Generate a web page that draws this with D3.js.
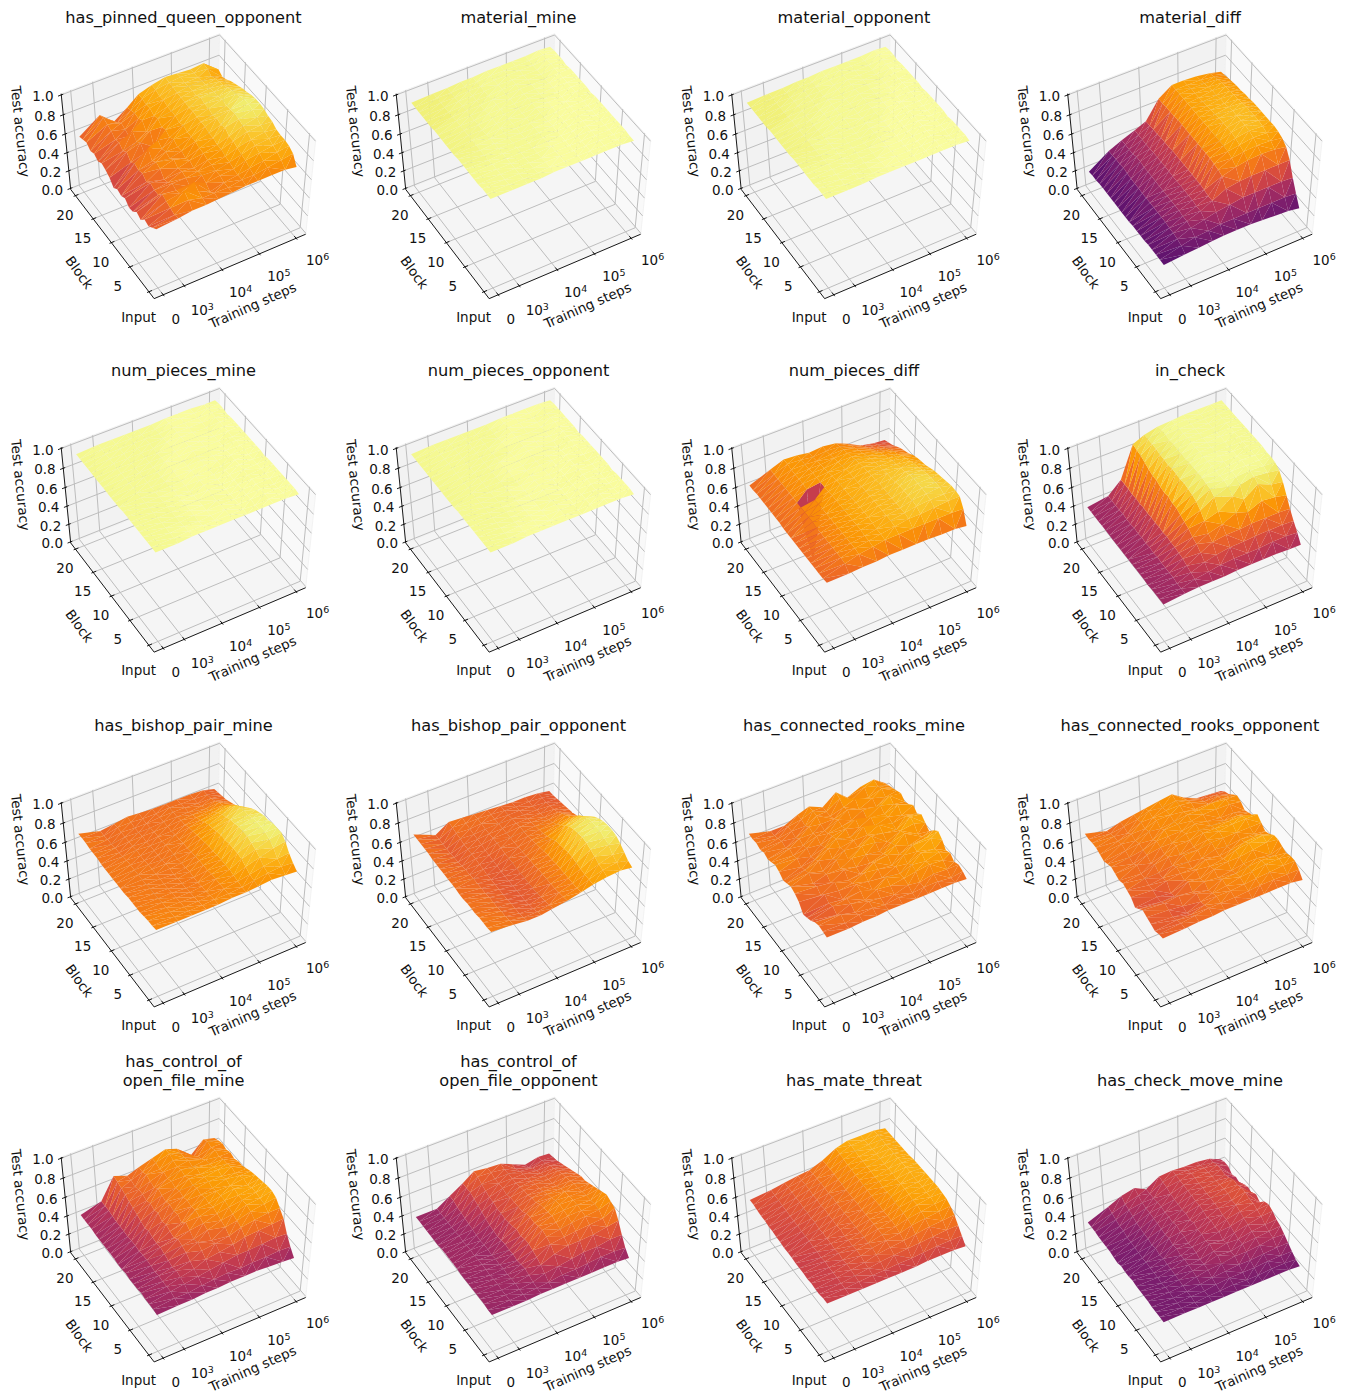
<!DOCTYPE html>
<html><head><meta charset="utf-8"><script src="https://cdn.jsdelivr.net/npm/d3@7"></script>
<style>html,body{margin:0;background:#fff}svg{display:block}text{font-family:"DejaVu Sans";fill:#111}</style></head><body><svg id="c" width="1351" height="1395"></svg>
<script>
const titles=[["has_pinned_queen_opponent"],["material_mine"],["material_opponent"],["material_diff"],["num_pieces_mine"],["num_pieces_opponent"],["num_pieces_diff"],["in_check"],["has_bishop_pair_mine"],["has_bishop_pair_opponent"],["has_connected_rooks_mine"],["has_connected_rooks_opponent"],["has_control_of","open_file_mine"],["has_control_of","open_file_opponent"],["has_mate_threat"],["has_check_move_mine"]];
const stepsLog=[2.45,3,3.35,3.7,4,4.35,4.7,5,5.35,5.7,6];
const blocks=d3.range(0,21);
const has_pinned_queen_opponent=[[66,68,70,70,71,72,73,73,73,73,71],[62,66,76,72,72,72,74,74,76,78,80],[58,68,80,74,68,72,74,76,78,81,83],[60,70,72,78,72,74,75,79,81,83,84],[54,72,70,68,75,74,77,80,84,85,84],[57,66,72,72,74,75,78,82,85,87,85],[52,66,68,74,72,75,80,84,88,89,88],[51,68,66,72,75,77,80,84,89,92,89],[56,64,72,76,72,77,82,88,91,95,91],[53,68,74,72,75,79,82,86,92,96,92],[55,66,70,74,74,79,84,88,91,96,92],[51,68,78,72,77,79,84,86,90,94,91],[57,64,68,76,74,81,84,88,92,92,89],[60,70,74,64,77,79,85,88,90,91,88],[62,66,70,76,75,81,84,90,90,89,86],[59,70,76,70,79,81,85,87,89,87,84],[62,68,66,77,77,81,85,87,88,86,82],[60,72,68,74,80,83,85,87,87,84,79],[64,74,70,75,79,82,86,86,86,82,77],[62,76,66,73,80,84,86,87,86,85,80],[60,74,62,71,80,84,87,86,85,86,72]];
const material_mine=[[98,98,98,98,99,99,99,99,99,99,98],[98,98,98,98,99,99,99,99,99,99,98],[98,98,98,98,99,99,99,99,99,99,99],[97,98,98,98,98,99,99,99,99,99,99],[97,98,98,98,98,99,99,99,99,99,99],[97,98,98,98,98,99,99,99,99,99,99],[97,97,98,98,98,98,99,99,99,99,99],[97,97,98,98,98,98,99,99,99,99,99],[97,97,98,98,98,98,99,99,99,99,99],[96,97,98,98,98,98,98,99,99,99,99],[96,97,97,98,98,98,98,99,99,99,98],[96,97,97,98,98,98,98,99,99,99,99],[96,97,97,98,98,98,98,98,99,99,99],[96,97,97,98,98,98,98,98,99,99,99],[96,97,97,97,98,98,98,98,99,99,99],[95,96,97,97,98,98,98,98,98,99,99],[95,96,97,97,97,98,98,98,98,99,98],[95,96,97,97,97,98,98,98,98,99,99],[95,96,96,97,97,98,98,98,98,99,99],[95,96,96,97,97,98,98,98,98,99,99],[95,96,96,97,97,98,98,98,98,99,98]];
const material_opponent=[[98,98,98,99,99,99,99,99,99,99,98],[98,98,98,98,99,99,99,99,99,99,99],[98,98,98,98,99,99,99,99,99,98,99],[97,98,98,98,98,99,99,99,99,99,99],[97,98,98,98,98,99,99,99,99,99,99],[97,98,98,98,98,99,99,99,99,99,98],[97,97,98,98,98,98,99,99,99,99,99],[97,97,98,98,98,98,99,99,99,99,99],[97,97,98,98,98,98,99,99,99,99,99],[96,97,98,98,98,98,98,99,99,99,99],[96,97,97,98,98,98,98,99,99,99,99],[96,97,97,98,98,98,98,99,99,99,98],[96,97,97,98,98,98,98,98,99,99,99],[96,97,97,98,98,98,98,98,99,99,99],[96,97,97,97,98,98,98,98,99,98,99],[95,96,97,97,98,98,98,98,98,99,99],[95,96,97,97,97,98,98,98,98,99,99],[95,96,97,97,97,98,98,98,98,99,98],[95,96,96,97,97,98,98,98,98,99,99],[95,96,96,97,97,98,98,98,98,99,99],[95,96,96,97,97,98,98,98,98,99,98]];
const material_diff=[[26,28,29,30,31,31,31,30,29,28,26],[26,32,35,36,38,38,38,38,38,38,37],[26,34,40,43,46,48,50,50,50,50,49],[26,35,42,47,53,60,62,63,63,63,63],[26,35,42,47,53,68,72,74,75,74,72],[25,36,43,48,54,70,76,78,79,78,76],[25,36,43,48,55,71,78,80,82,81,78],[25,36,43,48,55,72,79,82,84,83,79],[25,36,43,48,55,72,79,83,85,84,79],[24,36,43,48,55,72,79,83,85,84,79],[24,36,43,48,55,72,79,83,85,84,79],[24,36,43,48,55,72,79,83,85,84,79],[24,36,43,48,55,72,79,82,84,83,79],[24,36,43,48,55,72,79,82,83,82,78],[24,36,43,48,54,72,79,81,83,82,78],[24,37,44,48,54,72,79,81,82,81,77],[24,38,44,47,54,71,79,80,82,81,77],[24,37,42,47,53,71,79,80,81,80,76],[23,37,42,47,53,71,79,80,80,79,75],[23,36,42,47,52,70,79,79,79,77,74],[22,36,42,47,52,70,79,79,78,76,73]];
const num_pieces_mine=[[98,98,99,99,99,99,99,99,99,99,98],[98,98,99,99,99,99,99,98,99,99,99],[98,98,99,98,99,99,99,99,99,99,99],[98,98,98,99,99,99,99,99,99,98,99],[98,98,98,99,99,98,99,99,99,99,99],[98,98,98,99,99,99,99,99,99,99,99],[98,98,98,99,99,99,99,99,98,99,99],[98,98,98,99,98,99,99,99,99,99,99],[98,98,98,99,99,99,99,99,99,99,98],[97,98,98,98,99,99,99,98,99,99,99],[97,98,98,98,99,99,99,99,99,99,99],[97,98,98,98,99,99,99,99,99,99,99],[97,98,98,98,99,99,98,99,99,99,99],[97,98,98,98,99,99,99,99,99,98,99],[97,98,98,98,98,99,99,99,99,99,99],[97,98,98,98,98,99,99,99,99,99,99],[97,98,98,98,98,99,99,99,98,99,99],[97,98,98,98,98,98,99,99,99,99,98],[97,98,98,98,98,98,99,99,99,99,99],[97,98,98,98,98,98,99,99,99,99,99],[97,98,98,98,98,98,99,99,99,98,98]];
const num_pieces_opponent=[[98,98,99,99,99,99,99,99,99,99,98],[98,98,99,99,99,99,98,99,99,99,99],[98,98,99,99,99,99,99,99,99,99,99],[98,98,98,99,99,99,99,99,98,99,99],[98,98,98,99,99,98,99,99,99,99,99],[98,98,98,99,99,99,99,99,99,99,98],[98,98,98,99,99,99,99,98,99,99,99],[98,98,98,98,99,99,99,99,99,99,99],[98,98,98,99,99,99,99,99,99,98,99],[97,98,98,98,98,99,99,99,99,99,99],[97,98,98,98,99,99,99,99,99,99,99],[97,98,98,98,99,99,98,99,99,99,99],[97,98,98,98,99,99,99,99,98,99,99],[97,98,98,98,99,99,99,99,99,99,98],[97,98,98,98,98,98,99,99,99,99,99],[97,98,98,98,98,99,99,99,99,99,99],[97,98,98,98,98,99,99,98,99,99,99],[97,98,98,98,98,98,99,99,99,99,99],[97,98,98,98,98,98,99,99,99,98,99],[97,98,98,98,98,98,99,99,99,99,99],[97,98,98,98,98,98,99,99,99,99,98]];
const num_pieces_diff=[[66,66,67,67,68,68,68,68,67,67,65],[65,71,75,77,79,79,79,79,79,79,78],[65,72,76,78,80,82,84,84,85,86,86],[65,72,76,78,80,83,85,87,88,88,87],[65,72,76,79,81,83,85,88,89,90,87],[65,72,76,79,82,83,85,88,90,90,86],[65,72,76,79,82,83,85,88,90,90,85],[65,72,76,79,82,83,85,88,90,89,84],[65,72,76,79,82,83,85,87,89,88,83],[65,73,76,79,81,83,85,86,87,86,81],[65,73,76,79,81,83,84,86,86,85,79],[65,73,76,79,81,82,84,85,85,83,78],[66,73,75,78,81,82,83,84,84,81,77],[66,73,5,78,80,82,83,83,82,79,75],[66,73,76,78,80,81,82,82,80,76,72],[66,73,77,78,79,80,81,80,78,74,70],[66,73,77,78,78,79,79,78,75,71,68],[66,73,77,77,77,78,78,76,72,68,65],[66,73,77,77,76,77,77,74,69,65,62],[65,73,78,77,75,76,75,72,66,62,60],[65,73,78,77,75,76,74,69,62,59,58]];
const in_check=[[42,44,45,45,45,46,46,46,46,45,45],[42,44,48,50,52,53,53,53,54,54,53],[42,44,50,55,58,60,60,61,61,61,60],[42,45,52,60,66,68,68,69,69,69,68],[41,45,54,64,70,74,80,76,82,80,77],[42,45,55,66,78,82,92,84,94,88,86],[42,45,56,70,84,92,97,94,97,95,93],[42,46,56,72,88,95,98,97,98,97,96],[42,45,57,74,90,96,98,98,98,98,97],[42,46,56,76,91,97,98,98,99,98,97],[42,45,57,76,92,97,98,98,98,98,98],[42,46,56,78,91,97,98,99,98,98,98],[42,45,57,77,92,97,98,98,98,98,98],[42,46,56,78,92,96,98,98,98,98,98],[42,45,57,80,91,97,98,98,99,98,98],[42,45,56,80,92,96,98,98,98,98,98],[42,46,57,82,92,97,98,98,98,98,98],[42,45,56,84,93,96,98,98,98,98,98],[42,45,57,86,93,97,98,98,98,98,98],[42,45,57,87,93,97,98,98,98,98,98],[42,45,57,88,93,96,97,98,98,98,98]];
const has_bishop_pair_mine=[[74,74,74,74,74,75,75,76,77,76,75],[73,73,73,73,74,74,75,77,79,80,79],[73,73,72,72,73,74,76,78,81,83,84],[72,72,72,71,72,74,77,81,85,89,91],[71,72,71,71,72,74,78,84,88,93,95],[71,71,71,70,71,74,78,85,90,95,95],[71,71,70,70,71,73,78,85,92,96,95],[71,71,70,70,72,73,78,85,92,96,93],[70,70,70,69,71,73,77,84,92,95,93],[70,70,70,70,71,72,77,84,90,93,91],[70,70,70,70,70,72,76,83,89,93,89],[70,70,70,69,70,71,75,81,87,91,86],[70,70,69,69,70,71,74,80,85,89,82],[70,70,69,69,70,70,73,78,82,84,78],[70,69,70,69,69,70,72,75,78,80,74],[71,68,69,68,69,69,70,73,75,75,71],[71,68,69,69,69,69,70,71,72,73,69],[71,67,69,68,68,69,69,69,70,70,67],[72,67,69,68,68,69,69,69,68,68,66],[72,66,69,69,68,68,69,68,68,67,65],[72,66,68,70,69,68,68,68,68,67,64]];
const has_bishop_pair_opponent=[[72,70,68,68,70,72,75,78,80,81,79],[71,69,66,66,68,71,74,78,82,84,81],[71,68,65,64,67,70,74,78,83,87,85],[71,68,65,63,66,69,74,79,86,92,89],[70,67,65,62,65,69,74,80,88,94,92],[70,67,64,62,65,69,74,81,90,96,93],[70,67,64,62,65,69,74,81,91,96,93],[69,66,64,62,65,69,73,80,90,96,92],[69,66,64,62,65,68,73,79,89,95,90],[70,66,64,62,65,68,72,78,87,92,87],[70,66,64,62,66,68,71,75,83,88,82],[70,65,65,63,66,67,70,73,79,82,77],[70,65,65,63,66,67,69,71,75,77,72],[70,64,66,64,67,67,68,70,72,74,69],[70,63,66,64,67,67,68,69,70,71,67],[70,63,66,65,67,67,68,68,68,68,66],[71,62,66,66,67,67,67,67,67,66,65],[71,62,67,66,67,67,67,66,66,65,64],[71,62,68,67,68,67,66,66,65,64,63],[71,62,69,68,68,67,66,65,65,64,62],[71,62,70,69,68,67,66,65,65,64,62]];
const has_connected_rooks_mine=[[66,66,67,67,68,68,68,68,68,68,67],[67,66,69,70,68,70,69,70,70,68,70],[68,70,66,72,70,68,72,70,73,72,72],[66,64,70,68,74,72,74,76,78,76,70],[62,68,70,72,68,76,74,78,76,80,74],[60,66,64,74,72,70,76,74,80,78,72],[58,70,68,70,76,74,72,78,76,84,78],[66,64,72,68,70,76,78,74,78,80,82],[70,68,66,74,72,70,74,78,72,76,78],[72,66,70,70,76,74,72,76,80,74,72],[70,72,68,74,70,78,76,72,78,80,76],[68,70,74,70,74,72,78,76,74,82,80],[72,68,70,76,72,74,74,80,76,78,76],[74,72,68,72,76,72,78,74,78,74,80],[72,70,72,70,74,76,72,78,76,80,76],[70,72,70,74,72,74,76,72,80,76,74],[72,68,72,72,70,76,70,76,74,80,78],[70,70,68,74,72,72,76,72,78,74,76],[72,68,70,70,76,70,74,78,74,78,74],[71,66,70,72,76,70,78,72,80,76,72],[72,66,66,72,76,70,80,70,76,78,70]];
const has_connected_rooks_opponent=[[65,66,67,67,68,68,68,68,68,68,66],[64,66,68,70,70,70,71,72,72,72,72],[62,64,64,68,72,72,73,74,75,76,76],[64,62,60,66,70,72,75,76,78,78,76],[66,64,62,70,68,74,74,76,77,76,74],[68,66,68,66,72,70,72,74,74,72,76],[64,62,62,72,70,74,76,76,78,80,78],[60,62,60,68,74,72,74,78,80,82,78],[66,64,68,70,70,74,72,74,76,78,74],[68,64,66,72,72,70,74,72,74,74,72],[70,66,66,68,74,74,76,76,76,76,76],[68,66,70,72,70,72,74,78,80,80,80],[70,70,66,70,74,74,76,76,78,78,74],[72,66,70,72,72,76,74,74,74,74,72],[70,68,70,74,74,74,76,74,72,72,70],[68,70,72,70,76,76,74,76,76,76,74],[70,72,70,74,72,74,76,76,78,76,76],[72,70,72,72,76,76,74,72,72,72,72],[72,70,68,74,74,76,76,74,70,70,68],[71,68,70,72,76,74,76,72,68,66,66],[72,66,70,72,74,76,78,70,64,63,62]];
const has_control_of_open_file_mine=[[41,42,42,43,43,44,44,44,43,42,41],[42,44,44,46,47,48,47,48,48,49,48],[42,46,48,50,52,54,56,56,57,58,57],[42,46,50,53,58,60,62,65,66,67,68],[43,46,52,56,62,64,66,70,72,74,74],[42,47,50,60,66,62,70,72,76,78,80],[42,46,52,62,64,68,72,74,78,79,82],[42,47,54,64,68,70,74,76,78,80,82],[43,48,56,60,72,72,76,78,78,80,81],[42,48,55,62,66,74,75,78,80,78,80],[42,47,56,64,70,72,76,78,78,80,79],[43,48,58,62,68,74,74,76,80,78,78],[43,48,56,66,70,72,76,78,78,76,76],[43,47,58,64,68,74,74,78,80,78,74],[43,48,60,66,70,72,76,76,78,76,74],[43,48,62,64,72,74,74,78,76,76,72],[43,48,64,66,68,72,76,74,76,74,74],[44,49,66,66,70,74,74,76,72,76,72],[44,50,68,64,72,72,76,74,70,74,74],[44,50,70,66,70,74,78,74,66,76,72],[44,50,71,66,70,74,78,74,61,73,70]];
const has_control_of_open_file_opponent=[[41,41,41,42,42,42,42,42,42,42,41],[41,42,42,43,44,46,46,47,48,48,47],[42,42,42,44,48,50,52,54,54,56,56],[42,42,43,46,52,58,61,61,62,64,66],[42,43,43,48,55,63,65,66,67,68,74],[42,43,42,47,57,66,68,70,71,72,76],[42,42,43,46,59,68,70,72,72,73,78],[42,43,42,48,59,67,72,73,73,72,76],[42,43,43,47,57,65,71,74,73,72,74],[43,43,42,48,59,66,70,73,72,71,72],[43,42,43,47,57,65,69,71,72,70,70],[43,43,43,46,56,62,66,70,70,70,68],[43,43,42,47,55,62,66,68,68,68,68],[43,42,43,48,56,62,64,66,66,67,66],[42,43,44,50,56,62,64,66,65,66,64],[42,42,45,52,58,60,63,64,64,64,62],[42,42,46,54,58,62,62,62,62,62,60],[42,42,47,56,60,62,62,62,60,60,58],[42,42,48,58,62,62,62,60,58,58,56],[42,42,50,58,65,64,62,58,54,56,55],[42,42,50,58,66,64,63,58,52,55,54]];
const has_mate_threat=[[54,54,54,54,54,54,54,55,55,55,54],[54,55,56,57,57,58,58,59,60,60,60],[53,55,57,59,61,62,63,64,65,66,66],[53,56,58,60,63,65,66,68,70,71,72],[54,56,59,62,65,67,69,72,74,75,76],[53,56,58,63,65,68,71,74,76,78,79],[54,57,60,62,66,69,72,75,78,80,80],[54,56,59,63,66,69,72,76,78,80,81],[54,57,60,62,66,69,72,76,79,81,81],[55,57,60,64,66,69,73,77,80,81,81],[55,58,61,63,67,69,73,77,80,81,81],[55,58,60,64,66,70,73,77,80,82,81],[56,58,62,64,67,70,74,78,81,82,81],[56,59,61,65,67,70,74,78,81,82,81],[57,59,62,64,68,70,75,79,81,82,80],[57,59,62,65,67,71,75,79,82,82,80],[58,60,63,65,68,71,76,80,82,82,80],[58,60,63,66,68,72,76,80,82,82,80],[59,61,64,66,68,72,77,81,82,82,80],[60,61,64,66,68,72,78,82,82,82,80],[60,62,64,66,67,72,79,82,82,82,80]];
const has_check_move_mine=[[33,33,33,33,33,33,33,33,33,33,32],[33,33,33,34,34,35,34,34,35,35,34],[33,33,34,34,36,37,37,37,38,38,38],[33,33,34,36,38,39,40,40,41,42,42],[34,34,35,39,41,42,44,44,45,47,46],[34,34,36,40,42,46,44,47,48,49,50],[34,33,36,41,42,45,48,47,50,51,52],[34,34,37,42,44,48,46,49,52,55,56],[35,34,37,41,45,46,50,51,54,57,58],[34,34,38,43,44,48,50,53,56,59,56],[34,35,37,42,46,48,52,53,58,59,50],[35,34,39,44,46,50,50,55,58,61,54],[33,35,37,43,48,48,52,55,60,61,50],[34,35,39,44,46,50,53,56,60,59,52],[35,36,39,45,47,49,53,56,60,60,50],[35,36,40,45,47,50,54,57,59,57,46],[35,38,41,46,48,50,54,57,59,55,48],[35,38,43,46,48,51,55,58,58,56,46],[36,40,45,47,47,53,55,58,58,56,50],[36,42,46,50,47,54,56,56,56,54,50],[36,44,50,53,47,55,56,55,55,53,48]];
const panels=[has_pinned_queen_opponent,material_mine,material_opponent,material_diff,num_pieces_mine,num_pieces_opponent,num_pieces_diff,in_check,has_bishop_pair_mine,has_bishop_pair_opponent,has_connected_rooks_mine,has_connected_rooks_opponent,has_control_of_open_file_mine,has_control_of_open_file_opponent,has_mate_threat,has_check_move_mine];
const xTicks=[[2.45,"0",null],[3,"10","3"],[4,"10","4"],[5,"10","5"],[6,"10","6"]];
const yTicks=[[0,"Input"],[5,"5"],[10,"10"],[15,"15"],[20,"20"]];
const zTicks=[0,.2,.4,.6,.8,1];
const colX=[0,335,670.5,1006.5], rowY=[0,353.5,708.3,1063.3];
const view={el:52.7,az:-120,sx:1788.62,sy:1564.95,ox:186.94,oy:165.97};
const xLabelShift=[[12.5,29],[18,29],[18.5,27.5],[19.5,27.5],[21.5,26.5]];

function makeProj(p){const d=10,el=p.el*Math.PI/180,az=p.az*Math.PI/180;
 const n=[Math.cos(az)*Math.cos(el),Math.sin(az)*Math.cos(el),Math.sin(el)];
 const E=n.map(a=>.5+d*a);
 const cross=(a,b)=>[a[1]*b[2]-a[2]*b[1],a[2]*b[0]-a[0]*b[2],a[0]*b[1]-a[1]*b[0]];
 let u=cross([0,0,1],n);const l=Math.hypot(...u);u=u.map(a=>a/l);const v=cross(n,u);
 return (P)=>{const q=P.map((a,i)=>a-E[i]);const dot=(a,b)=>a[0]*b[0]+a[1]*b[1]+a[2]*b[2];
  const w=-dot(n,q);return [p.ox+p.sx*dot(u,q)/w,p.oy-p.sy*dot(v,q)/w,w];};}
const proj=makeProj(view);
const xS=d3.scaleLinear().domain([2.215,6.263]).range([0,1]);
const yS=d3.scaleLinear().domain([-1.36,21.36]).range([0,1]);
const zS=d3.scaleLinear().domain([-.012,1.012]).range([0,1]);
const pts=[];stepsLog.forEach(x=>blocks.forEach(y=>pts.push([x,y])));
const tri=d3.Delaunay.from(pts).triangles;
const svg=d3.select("#c");
const line=(a,b)=>{const s=proj(a),e=proj(b);return `M${s[0]},${s[1]}L${e[0]},${e[1]}`;};
const polyP=a=>a.map(q=>proj(q).slice(0,2).join(",")).join(" ");
panels.forEach((Z,k)=>{
 const g=svg.append("g").attr("transform",`translate(${colX[k%4]},${rowY[Math.floor(k/4)]})`);
 [[[[0,1,0],[1,1,0],[1,1,1],[0,1,1]],"#f2f2f2"],[[[1,0,0],[1,1,0],[1,1,1],[1,0,1]],"#f9f9f9"],[[[0,0,0],[1,0,0],[1,1,0],[0,1,0]],"#f5f5f5"]].forEach(([q,c])=>g.append("polygon").attr("points",polyP(q)).attr("fill",c).attr("stroke","#f0f0f0").attr("stroke-width",.8));
 const grid=g.append("g").attr("fill","none").attr("stroke","#bdbdbd").attr("stroke-width",1);
 xTicks.forEach(t=>{const x=xS(t[0]);grid.append("path").attr("d",line([x,0,0],[x,1,0])+line([x,1,0],[x,1,1]));});
 yTicks.forEach(t=>{const y=yS(t[0]);grid.append("path").attr("d",line([0,y,0],[1,y,0])+line([1,y,0],[1,y,1]));});
 zTicks.forEach(z=>grid.append("path").attr("d",line([0,1,zS(z)],[1,1,zS(z)])+line([1,1,zS(z)],[1,0,zS(z)])));
 const ax=g.append("g").attr("fill","none").attr("stroke","#000").attr("stroke-width",.9);
 ax.append("path").attr("d",line([0,0,0],[1,0,0])+line([0,0,0],[0,1,0])+line([0,1,0],[0,1,1]));
 xTicks.forEach(t=>{const x=xS(t[0]);ax.append("path").attr("d",line([x,-.012,0],[x,.02,0]));});
 yTicks.forEach(t=>{const y=yS(t[0]);ax.append("path").attr("d",line([-.012,y,0],[.02,y,0]));});
 zTicks.forEach(z=>ax.append("path").attr("d",line([-.02,1,zS(z)],[.012,1,zS(z)])));
 const v=pts.map(([x,y])=>{const z=Z[y][stepsLog.indexOf(x)]/100;return {z,s:proj([xS(x),yS(y),zS(z)])};});
 const faces=[];for(let i=0;i<tri.length;i+=3){const a=v[tri[i]],b=v[tri[i+1]],c=v[tri[i+2]];faces.push({a,b,c,d:(a.s[2]+b.s[2]+c.s[2])/3,z:(a.z+b.z+c.z)/3});}
 faces.sort((p,q)=>q.d-p.d);
 g.append("g").selectAll("polygon").data(faces).join("polygon").attr("points",f=>[f.a,f.b,f.c].map(o=>o.s[0]+","+o.s[1]).join(" ")).attr("fill",f=>d3.interpolateInferno(f.z));
 const tf=g.append("g").attr("font-size",13.5).attr("text-anchor","middle");
 xTicks.forEach((t,i)=>{const s=proj([xS(t[0]),0,0]);const e=tf.append("text").attr("x",s[0]+xLabelShift[i][0]).attr("y",s[1]+xLabelShift[i][1]);e.append("tspan").text(t[1]);if(t[2])e.append("tspan").attr("dy",-5).attr("font-size",9.5).text(t[2]);});
 yTicks.forEach(t=>{const s=proj([0,yS(t[0]),0]);const dx=t[0]?(t[0]==5?-12:-10.5):-10.3,dy=t[0]?24:30;tf.append("text").attr("x",s[0]+dx).attr("y",s[1]+dy).text(t[1]);});
 zTicks.forEach(z=>{const s=proj([0,1,zS(z)]);tf.append("text").attr("x",s[0]-18.3).attr("y",s[1]+6.2).text(z.toFixed(1));});
 const F=proj([0,0,0]);
 tf.append("text").attr("transform",`translate(${F[0]+98.5},${F[1]+7}) rotate(-24)`).attr("dy",4.5).text("Training steps");
 tf.append("text").attr("transform",`translate(${F[0]-75},${F[1]-26}) rotate(54)`).attr("dy",4.5).text("Block");
 tf.append("text").attr("transform",`translate(${F[0]-134},${F[1]-167}) rotate(84)`).attr("dy",4.5).text("Test accuracy");
 const tl=titles[k];const cx=183.5,base=22.5;
 tl.forEach((s,i)=>g.append("text").attr("x",cx).attr("y",base-(tl.length-1-i)*18.9).attr("font-size",16.2).attr("text-anchor","middle").text(s));
});
</script></body></html>
